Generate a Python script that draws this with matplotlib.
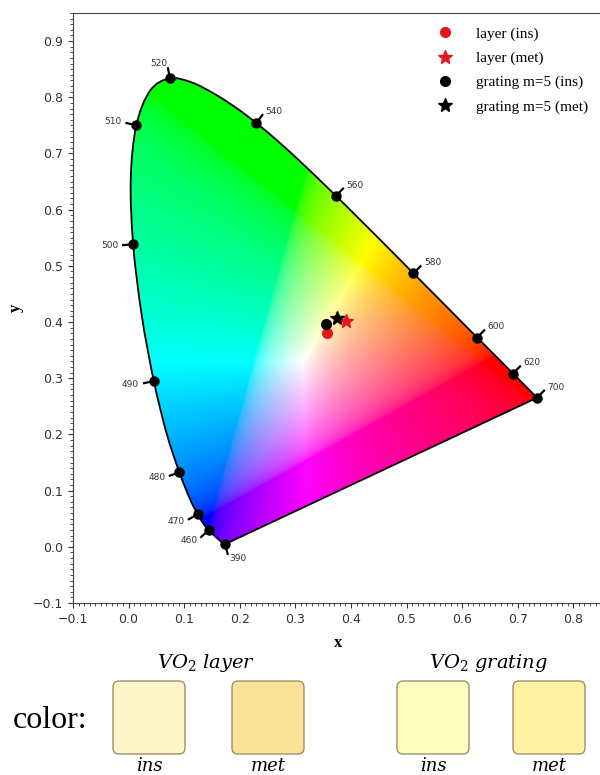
import numpy as np
import matplotlib
matplotlib.use('Agg')
import matplotlib.pyplot as plt
from matplotlib.patches import PathPatch, FancyBboxPatch
from matplotlib.path import Path
from matplotlib.ticker import MultipleLocator

# CIE 1931 2-degree spectral locus (chromaticity x, y), 380-700 nm in 5 nm steps
wavelengths = list(range(380, 705, 5))
locus_x = [0.1741, 0.1740, 0.1738, 0.1736, 0.1733, 0.1730, 0.1726, 0.1721, 0.1714, 0.1703,
           0.1689, 0.1669, 0.1644, 0.1611, 0.1566, 0.1510, 0.1440, 0.1355, 0.1241, 0.1096,
           0.0913, 0.0687, 0.0454, 0.0235, 0.0082, 0.0039, 0.0139, 0.0389, 0.0743, 0.1142,
           0.1547, 0.1929, 0.2296, 0.2658, 0.3016, 0.3373, 0.3731, 0.4087, 0.4441, 0.4788,
           0.5125, 0.5448, 0.5752, 0.6029, 0.6270, 0.6482, 0.6658, 0.6801, 0.6915, 0.7006,
           0.7079, 0.7140, 0.7190, 0.7230, 0.7260, 0.7283, 0.7300, 0.7311, 0.7320, 0.7327,
           0.7334, 0.7340, 0.7344, 0.7346, 0.7347]
locus_y = [0.0050, 0.0050, 0.0049, 0.0049, 0.0048, 0.0048, 0.0048, 0.0048, 0.0051, 0.0058,
           0.0069, 0.0086, 0.0109, 0.0138, 0.0177, 0.0227, 0.0297, 0.0399, 0.0578, 0.0868,
           0.1327, 0.2007, 0.2950, 0.4127, 0.5384, 0.6548, 0.7502, 0.8120, 0.8338, 0.8262,
           0.8059, 0.7816, 0.7543, 0.7243, 0.6923, 0.6589, 0.6245, 0.5896, 0.5547, 0.5202,
           0.4866, 0.4544, 0.4242, 0.3965, 0.3725, 0.3514, 0.3340, 0.3197, 0.3083, 0.2993,
           0.2920, 0.2859, 0.2809, 0.2770, 0.2740, 0.2717, 0.2700, 0.2689, 0.2680, 0.2673,
           0.2666, 0.2660, 0.2656, 0.2654, 0.2653]
label_wavelengths = [390, 460, 470, 480, 490, 500, 510, 520, 540, 560, 580, 600, 620, 700]
white_point = (0.3127, 0.3290)

# measured chromaticities
series_labels = ['layer (ins)', 'layer (met)', 'grating m=5 (ins)', 'grating m=5 (met)']
series_x = [0.357, 0.391, 0.356, 0.375]
series_y = [0.380, 0.402, 0.396, 0.407]
series_markers = ['o', '*', 'o', '*']
series_colors = ['#e8141c', '#e8141c', 'black', 'black']
series_sizes = [7, 10, 7, 10]

# colour swatches
swatch_titles = [r'$VO_2\ layer$', r'$VO_2\ grating$']
swatch_states = ['ins', 'met']
swatch_colors = [['#FEF5C8', '#FBE299'], ['#FFFCC0', '#FDF3A2']]

W, H = 600, 775
plt.rcParams['mathtext.fontset'] = 'dejavuserif'
fig = plt.figure(figsize=(W / 100, H / 100), dpi=100)
xlim = (-0.1, 0.848)
ylim = (-0.1, 0.95)
ax = fig.add_axes([73 / W, (H - 603) / H, (W - 73) / W, 590 / H])
ax.set_xlim(*xlim)
ax.set_ylim(*ylim)

# chromaticity fill (xy -> XYZ -> sRGB, normalised to the maximum channel)
res = 600
gx = np.linspace(xlim[0], xlim[1], res)
gy = np.linspace(ylim[0], ylim[1], res)
GX, GY = np.meshgrid(gx, gy)
Yc = np.where(GY > 1e-4, GY, 1e-4)
XYZ = np.stack([GX / Yc, np.ones_like(GX), (1 - GX - GY) / Yc], axis=-1)
M = np.array([[3.2404542, -1.5371385, -0.4985314],
              [-0.9692660, 1.8760108, 0.0415560],
              [0.0556434, -0.2040259, 1.0572252]])
lin = XYZ @ M.T
enc = np.where(lin <= 0.0031308, lin * 12.92, 1.055 * np.abs(lin) ** (1 / 2.4) - 0.055)
mx = np.maximum(enc.max(axis=-1, keepdims=True), 1e-6)
rgb = np.clip(enc / mx, 0, 1)

# smooth outline path through the locus points (Catmull-Rom rendered as Bezier)
pts = np.column_stack([locus_x, locus_y])
n = len(pts)
verts = [pts[0]]
codes = [Path.MOVETO]
for i in range(n - 1):
    p0 = pts[max(i - 1, 0)]
    p1 = pts[i]
    p2 = pts[i + 1]
    p3 = pts[min(i + 2, n - 1)]
    verts += [p1 + (p2 - p0) / 6, p2 - (p3 - p1) / 6, p2]
    codes += [Path.CURVE4] * 3
verts += [pts[0], pts[0]]
codes += [Path.LINETO, Path.CLOSEPOLY]
locus_path = Path(verts, codes)

clip_patch = PathPatch(locus_path, transform=ax.transData)
im = ax.imshow(rgb, extent=[xlim[0], xlim[1], ylim[0], ylim[1]], origin='lower',
               interpolation='bilinear', aspect='auto', zorder=1)
im.set_clip_path(clip_patch)
ax.add_patch(PathPatch(locus_path, facecolor='none', edgecolor='black', lw=1.3, zorder=3))

# wavelength labels
lx = np.array(locus_x)
ly = np.array(locus_y)
tx = np.gradient(lx)
ty = np.gradient(ly)
for wl in label_wavelengths:
    i = wavelengths.index(wl)
    px, py = lx[i], ly[i]
    nx, ny = ty[i], -tx[i]
    nn = np.hypot(nx, ny)
    nx, ny = nx / nn, ny / nn
    if nx * (px - white_point[0]) + ny * (py - white_point[1]) < 0:
        nx, ny = -nx, -ny
    ax.plot([px, px + 0.018 * nx], [py, py + 0.018 * ny], color='black', lw=1.6, zorder=4)
    ax.plot(px, py, 'o', color='black', ms=6.5, zorder=4)
    ax.text(px + 0.027 * nx, py + 0.027 * ny, str(wl), fontsize=6.5, color='#333333',
            ha='left' if nx >= 0 else 'right', va='center', zorder=5)

handles = []
for lab, x, y, mk, c, s in zip(series_labels, series_x, series_y, series_markers,
                               series_colors, series_sizes):
    h, = ax.plot(x, y, linestyle='none', marker=mk, color=c, ms=s, zorder=6, label=lab)
    handles.append(h)

ax.legend(handles=handles, loc='upper left', bbox_to_anchor=(430 / W, 1 - 27 / H),
          bbox_transform=fig.transFigure, frameon=False, numpoints=1,
          prop={'family': 'Liberation Serif', 'size': 11}, handletextpad=1.0,
          labelspacing=0.68, borderpad=0, borderaxespad=0)

ax.spines['right'].set_visible(False)
for s in ['left', 'bottom', 'top']:
    ax.spines[s].set_color('#444444')
ax.xaxis.set_major_locator(MultipleLocator(0.1))
ax.yaxis.set_major_locator(MultipleLocator(0.1))
ax.xaxis.set_minor_locator(MultipleLocator(0.01))
ax.yaxis.set_minor_locator(MultipleLocator(0.01))
ax.tick_params(which='both', direction='out', top=False, right=False, labelsize=9,
               colors='#333333')
ax.tick_params(which='minor', length=2)
ax.set_xlabel('x', fontfamily='Liberation Serif', fontweight='bold', fontsize=12)
ax.set_ylabel('y', fontfamily='Liberation Serif', fontweight='bold', fontsize=12)
ax.xaxis.set_label_coords((338 - 73) / (W - 73), -0.055)
ax.yaxis.set_label_coords((24 - 73) / (W - 73), 0.5)

# bottom colour panel in pixel coordinates
ov = fig.add_axes([0, 0, 1, 1])
ov.set_xlim(0, W)
ov.set_ylim(H, 0)
ov.axis('off')

box_left = [[113, 232], [397, 513]]
box_top, box_w, box_h = 681, 72, 73
ov.text(13, 721, 'color:', fontfamily='Liberation Serif', fontsize=23, va='center', ha='left')
for g in range(2):
    centers = []
    for k in range(2):
        x0 = box_left[g][k]
        ov.add_patch(FancyBboxPatch((x0, box_top), box_w, box_h,
                                    boxstyle='round,pad=0,rounding_size=6',
                                    facecolor=swatch_colors[g][k], edgecolor='#9c8f6a', lw=1.0))
        cx = x0 + box_w / 2
        centers.append(cx)
        ov.text(cx, 766, swatch_states[k], fontfamily='DejaVu Serif', style='italic',
                fontsize=13, ha='center', va='center')
    ov.text(np.mean(centers) - 2, 663, swatch_titles[g], fontsize=14, ha='center', va='center')

fig.savefig('out.png', dpi=100)
